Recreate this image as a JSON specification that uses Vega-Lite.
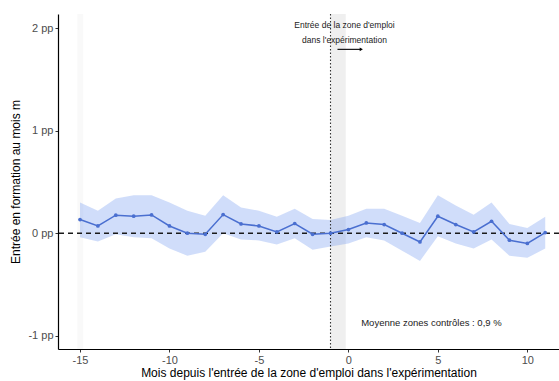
{
  "$schema": "https://vega.github.io/schema/vega-lite/v6.json",
  "autosize": "none",
  "width": 501,
  "height": 335,
  "padding": {"left": 58, "top": 14, "right": 0, "bottom": 32},
  "background": "white",
  "config": {
    "view": {"stroke": null},
    "font": "Liberation Sans",
    "axis": {"grid": false, "domainColor": "#000000", "domainWidth": 1.2, "tickColor": "#333333", "tickSize": 3, "labelColor": "#4d4d4d", "labelFontSize": 11, "titleFontSize": 12, "titleFontWeight": "normal", "titleColor": "#000000", "labelFont": "Liberation Sans", "titleFont": "Liberation Sans"}
  },
  "data": {
    "values": [
      {"m": -15, "v": 0.134, "lo": -0.04, "hi": 0.30},
      {"m": -14, "v": 0.071, "lo": -0.08, "hi": 0.22},
      {"m": -13, "v": 0.176, "lo": -0.01, "hi": 0.34},
      {"m": -12, "v": 0.166, "lo": -0.04, "hi": 0.37},
      {"m": -11, "v": 0.179, "lo": -0.05, "hi": 0.37},
      {"m": -10, "v": 0.071, "lo": -0.15, "hi": 0.30},
      {"m": -9, "v": 0.0, "lo": -0.22, "hi": 0.22},
      {"m": -8, "v": -0.01, "lo": -0.18, "hi": 0.17},
      {"m": -7, "v": 0.182, "lo": 0.0, "hi": 0.37},
      {"m": -6, "v": 0.091, "lo": -0.06, "hi": 0.25},
      {"m": -5, "v": 0.071, "lo": -0.07, "hi": 0.22},
      {"m": -4, "v": 0.013, "lo": -0.11, "hi": 0.16},
      {"m": -3, "v": 0.095, "lo": -0.05, "hi": 0.24},
      {"m": -2, "v": -0.01, "lo": -0.16, "hi": 0.14},
      {"m": -1, "v": 0.0, "lo": -0.13, "hi": 0.13},
      {"m": 0, "v": 0.036, "lo": -0.10, "hi": 0.17},
      {"m": 1, "v": 0.10, "lo": -0.04, "hi": 0.24},
      {"m": 2, "v": 0.085, "lo": -0.07, "hi": 0.24},
      {"m": 3, "v": 0.0, "lo": -0.17, "hi": 0.17},
      {"m": 4, "v": -0.085, "lo": -0.27, "hi": 0.10},
      {"m": 5, "v": 0.166, "lo": -0.03, "hi": 0.37},
      {"m": 6, "v": 0.085, "lo": -0.10, "hi": 0.27},
      {"m": 7, "v": 0.013, "lo": -0.15, "hi": 0.18},
      {"m": 8, "v": 0.117, "lo": -0.06, "hi": 0.30},
      {"m": 9, "v": -0.068, "lo": -0.22, "hi": 0.09},
      {"m": 10, "v": -0.10, "lo": -0.24, "hi": 0.05},
      {"m": 11, "v": 0.007, "lo": -0.15, "hi": 0.16}
    ]
  },
  "layer": [
    {
      "data": {"values": [{}]},
      "mark": {"type": "rect", "fill": "#efefef"},
      "encoding": {
        "x": {"datum": -1, "type": "quantitative", "scale": {"domain": [-16.23, 11.77], "nice": false, "zero": false}},
        "x2": {"datum": -0.15},
        "y": {"datum": -1.13, "type": "quantitative", "scale": {"domain": [-1.13, 2.14], "nice": false, "zero": false}},
        "y2": {"datum": 2.14}
      }
    },
    {
      "data": {"values": [{}]},
      "mark": {"type": "rect", "fill": "#f9f9f9"},
      "encoding": {
        "x": {"datum": -15.15, "type": "quantitative"},
        "x2": {"datum": -14.82},
        "y": {"datum": -1.13, "type": "quantitative"},
        "y2": {"datum": 2.14}
      }
    },
    {
      "mark": {"type": "area", "fill": "#789ff0", "opacity": 0.35},
      "encoding": {
        "x": {"field": "m", "type": "quantitative",
          "axis": {"title": "Mois depuis l'entrée de la zone d'emploi dans l'expérimentation", "values": [-15, -10, -5, 0, 5, 10], "labelExpr": "datum.value + ''", "titlePadding": 2, "labelPadding": 2}},
        "y": {"field": "lo", "type": "quantitative",
          "axis": {"title": "Entrée en formation au mois m", "values": [-1, 0, 1, 2], "labelExpr": "datum.value + ' pp'", "titlePadding": 5, "labelPadding": 2}},
        "y2": {"field": "hi"}
      }
    },
    {
      "data": {"values": [{}]},
      "mark": {"type": "rule", "strokeDash": [5, 4], "color": "#1a1a1a", "strokeWidth": 1.5},
      "encoding": {"y": {"datum": 0, "type": "quantitative"}}
    },
    {
      "data": {"values": [{}]},
      "mark": {"type": "rule", "strokeDash": [1.5, 2], "color": "#333333", "strokeWidth": 1.1},
      "encoding": {"x": {"datum": -1, "type": "quantitative"}}
    },
    {
      "mark": {"type": "line", "color": "#4a6fd0", "strokeWidth": 1.5},
      "encoding": {"x": {"field": "m", "type": "quantitative"}, "y": {"field": "v", "type": "quantitative"}}
    },
    {
      "mark": {"type": "point", "filled": true, "color": "#4a6fd0", "size": 14, "opacity": 1},
      "encoding": {"x": {"field": "m", "type": "quantitative"}, "y": {"field": "v", "type": "quantitative"}}
    },
    {
      "data": {"values": [{}]},
      "mark": {"type": "text", "fontSize": 8.5, "fill": "#222222", "align": "center", "baseline": "middle"},
      "encoding": {"x": {"datum": -0.22, "type": "quantitative"}, "y": {"datum": 2.03, "type": "quantitative"}, "text": {"value": "Entrée de la zone d'emploi"}}
    },
    {
      "data": {"values": [{}]},
      "mark": {"type": "text", "fontSize": 8.5, "fill": "#222222", "align": "center", "baseline": "middle"},
      "encoding": {"x": {"datum": -0.22, "type": "quantitative"}, "y": {"datum": 1.89, "type": "quantitative"}, "text": {"value": "dans l'expérimentation"}}
    },
    {
      "data": {"values": [{}]},
      "mark": {"type": "rule", "color": "#000000", "strokeWidth": 1.1},
      "encoding": {"x": {"datum": -0.61, "type": "quantitative"}, "x2": {"datum": 0.7}, "y": {"datum": 1.795, "type": "quantitative"}}
    },
    {
      "data": {"values": [{}]},
      "mark": {"type": "point", "shape": "triangle-right", "filled": true, "color": "#000000", "size": 14, "opacity": 1},
      "encoding": {"x": {"datum": 0.72, "type": "quantitative"}, "y": {"datum": 1.795, "type": "quantitative"}}
    },
    {
      "data": {"values": [{}]},
      "mark": {"type": "text", "fontSize": 9.5, "fill": "#222222", "align": "center", "baseline": "middle"},
      "encoding": {"x": {"datum": 4.64, "type": "quantitative"}, "y": {"datum": -0.88, "type": "quantitative"}, "text": {"value": "Moyenne zones contrôles : 0,9 %"}}
    }
  ]
}
